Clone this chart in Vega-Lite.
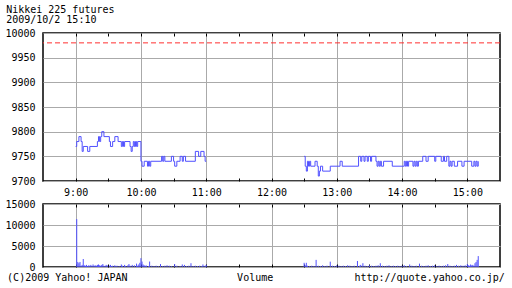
{
  "$schema": "https://vega.github.io/schema/vega-lite/v6.json",
  "background": "white",
  "padding": {"left": 4, "right": 4, "top": 5, "bottom": 2},
  "spacing": 0,
  "title": {"text": ["Nikkei 225 futures", "2009/10/2 15:10"], "anchor": "start", "frame": "bounds", "font": "DejaVu Sans Mono", "fontSize": 10, "fontWeight": "normal", "lineHeight": 10, "offset": 2, "color": "black", "dx": 2},
  "config": {
    "font": "DejaVu Sans Mono",
    "view": {"stroke": "black", "strokeWidth": 1.5},
    "axis": {"domain": false, "labelFont": "DejaVu Sans Mono", "labelFontSize": 10, "labelColor": "black", "gridColor": "#aaaaaa", "gridWidth": 1, "tickColor": "black", "tickWidth": 1}
  },
  "datasets": {
    "price": [
      {"t": 540, "p": 9770, "s": "am"}, {"t": 541, "p": 9780, "s": "am"}, {"t": 543, "p": 9790, "s": "am"}, {"t": 545, "p": 9780, "s": "am"},
      {"t": 546, "p": 9760, "s": "am"}, {"t": 547, "p": 9770, "s": "am"}, {"t": 551, "p": 9760, "s": "am"}, {"t": 553, "p": 9770, "s": "am"},
      {"t": 560, "p": 9780, "s": "am"}, {"t": 561, "p": 9790, "s": "am"}, {"t": 562, "p": 9780, "s": "am"}, {"t": 563, "p": 9790, "s": "am"},
      {"t": 564, "p": 9800, "s": "am"}, {"t": 566, "p": 9790, "s": "am"}, {"t": 571, "p": 9780, "s": "am"}, {"t": 572, "p": 9770, "s": "am"},
      {"t": 574, "p": 9780, "s": "am"}, {"t": 576, "p": 9790, "s": "am"}, {"t": 579, "p": 9780, "s": "am"}, {"t": 582, "p": 9770, "s": "am"},
      {"t": 583, "p": 9780, "s": "am"}, {"t": 584, "p": 9770, "s": "am"}, {"t": 585, "p": 9780, "s": "am"}, {"t": 590, "p": 9770, "s": "am"},
      {"t": 591, "p": 9760, "s": "am"}, {"t": 592, "p": 9770, "s": "am"}, {"t": 593, "p": 9780, "s": "am"}, {"t": 594, "p": 9770, "s": "am"},
      {"t": 595, "p": 9780, "s": "am"}, {"t": 596, "p": 9770, "s": "am"}, {"t": 597, "p": 9780, "s": "am"}, {"t": 600, "p": 9740, "s": "am"},
      {"t": 601, "p": 9730, "s": "am"}, {"t": 603, "p": 9740, "s": "am"}, {"t": 606, "p": 9730, "s": "am"}, {"t": 607, "p": 9740, "s": "am"},
      {"t": 608, "p": 9730, "s": "am"}, {"t": 609, "p": 9740, "s": "am"}, {"t": 619, "p": 9750, "s": "am"}, {"t": 620, "p": 9740, "s": "am"},
      {"t": 621, "p": 9750, "s": "am"}, {"t": 622, "p": 9740, "s": "am"}, {"t": 628, "p": 9750, "s": "am"}, {"t": 630, "p": 9740, "s": "am"},
      {"t": 631, "p": 9730, "s": "am"}, {"t": 633, "p": 9740, "s": "am"}, {"t": 636, "p": 9750, "s": "am"}, {"t": 638, "p": 9740, "s": "am"},
      {"t": 639, "p": 9750, "s": "am"}, {"t": 641, "p": 9740, "s": "am"}, {"t": 650, "p": 9760, "s": "am"}, {"t": 653, "p": 9750, "s": "am"},
      {"t": 655, "p": 9760, "s": "am"}, {"t": 658, "p": 9750, "s": "am"}, {"t": 659, "p": 9740, "s": "am"}, {"t": 660, "p": 9740, "s": "am"},
      {"t": 750, "p": 9750, "s": "pm"}, {"t": 751, "p": 9730, "s": "pm"}, {"t": 752, "p": 9720, "s": "pm"}, {"t": 753, "p": 9740, "s": "pm"},
      {"t": 754, "p": 9730, "s": "pm"}, {"t": 755, "p": 9740, "s": "pm"}, {"t": 756, "p": 9730, "s": "pm"}, {"t": 760, "p": 9740, "s": "pm"},
      {"t": 762, "p": 9730, "s": "pm"}, {"t": 763, "p": 9710, "s": "pm"}, {"t": 764, "p": 9720, "s": "pm"}, {"t": 765, "p": 9730, "s": "pm"},
      {"t": 767, "p": 9720, "s": "pm"}, {"t": 774, "p": 9730, "s": "pm"}, {"t": 783, "p": 9740, "s": "pm"}, {"t": 785, "p": 9730, "s": "pm"},
      {"t": 800, "p": 9750, "s": "pm"}, {"t": 802, "p": 9740, "s": "pm"}, {"t": 803, "p": 9750, "s": "pm"}, {"t": 805, "p": 9740, "s": "pm"},
      {"t": 806, "p": 9750, "s": "pm"}, {"t": 808, "p": 9740, "s": "pm"}, {"t": 809, "p": 9750, "s": "pm"}, {"t": 811, "p": 9740, "s": "pm"},
      {"t": 812, "p": 9750, "s": "pm"}, {"t": 814, "p": 9750, "s": "pm"}, {"t": 816, "p": 9740, "s": "pm"}, {"t": 817, "p": 9730, "s": "pm"},
      {"t": 818, "p": 9740, "s": "pm"}, {"t": 819, "p": 9730, "s": "pm"}, {"t": 820, "p": 9740, "s": "pm"}, {"t": 821, "p": 9730, "s": "pm"},
      {"t": 823, "p": 9740, "s": "pm"}, {"t": 831, "p": 9730, "s": "pm"}, {"t": 842, "p": 9740, "s": "pm"}, {"t": 843, "p": 9730, "s": "pm"},
      {"t": 844, "p": 9740, "s": "pm"}, {"t": 845, "p": 9730, "s": "pm"}, {"t": 846, "p": 9740, "s": "pm"}, {"t": 850, "p": 9730, "s": "pm"},
      {"t": 851, "p": 9740, "s": "pm"}, {"t": 852, "p": 9730, "s": "pm"}, {"t": 853, "p": 9740, "s": "pm"}, {"t": 854, "p": 9730, "s": "pm"},
      {"t": 855, "p": 9740, "s": "pm"}, {"t": 859, "p": 9750, "s": "pm"}, {"t": 862, "p": 9740, "s": "pm"}, {"t": 864, "p": 9750, "s": "pm"},
      {"t": 870, "p": 9740, "s": "pm"}, {"t": 871, "p": 9750, "s": "pm"}, {"t": 876, "p": 9740, "s": "pm"}, {"t": 878, "p": 9750, "s": "pm"},
      {"t": 879, "p": 9740, "s": "pm"}, {"t": 881, "p": 9750, "s": "pm"}, {"t": 883, "p": 9730, "s": "pm"}, {"t": 884, "p": 9740, "s": "pm"},
      {"t": 885, "p": 9730, "s": "pm"}, {"t": 886, "p": 9740, "s": "pm"}, {"t": 888, "p": 9730, "s": "pm"}, {"t": 891, "p": 9740, "s": "pm"},
      {"t": 895, "p": 9730, "s": "pm"}, {"t": 897, "p": 9740, "s": "pm"}, {"t": 904, "p": 9730, "s": "pm"}, {"t": 906, "p": 9740, "s": "pm"},
      {"t": 907, "p": 9730, "s": "pm"}, {"t": 908, "p": 9740, "s": "pm"}, {"t": 909, "p": 9730, "s": "pm"}, {"t": 910, "p": 9740, "s": "pm"}
    ],
    "volume": [
      {"t": 541, "v": 11400}, {"t": 542, "v": 1200}, {"t": 543, "v": 900}, {"t": 544, "v": 1200}, {"t": 545, "v": 300}, {"t": 546, "v": 500},
      {"t": 547, "v": 1900}, {"t": 548, "v": 400}, {"t": 549, "v": 300}, {"t": 550, "v": 500}, {"t": 551, "v": 200}, {"t": 552, "v": 400},
      {"t": 553, "v": 300}, {"t": 554, "v": 500}, {"t": 555, "v": 200}, {"t": 556, "v": 600}, {"t": 557, "v": 300}, {"t": 558, "v": 400},
      {"t": 559, "v": 300}, {"t": 560, "v": 500}, {"t": 561, "v": 600}, {"t": 562, "v": 400}, {"t": 563, "v": 300}, {"t": 564, "v": 500},
      {"t": 565, "v": 700}, {"t": 566, "v": 300}, {"t": 567, "v": 200}, {"t": 568, "v": 500}, {"t": 569, "v": 400}, {"t": 571, "v": 300},
      {"t": 572, "v": 500}, {"t": 573, "v": 200}, {"t": 574, "v": 300}, {"t": 576, "v": 400}, {"t": 577, "v": 200}, {"t": 578, "v": 300},
      {"t": 580, "v": 200}, {"t": 582, "v": 600}, {"t": 583, "v": 300}, {"t": 585, "v": 500}, {"t": 586, "v": 200}, {"t": 588, "v": 400},
      {"t": 589, "v": 700}, {"t": 590, "v": 300}, {"t": 592, "v": 500}, {"t": 594, "v": 400}, {"t": 596, "v": 800}, {"t": 597, "v": 300},
      {"t": 598, "v": 600}, {"t": 599, "v": 1000}, {"t": 600, "v": 2100}, {"t": 601, "v": 1300}, {"t": 602, "v": 600}, {"t": 603, "v": 400},
      {"t": 604, "v": 300}, {"t": 605, "v": 350}, {"t": 607, "v": 200}, {"t": 608, "v": 1300}, {"t": 610, "v": 300}, {"t": 612, "v": 200},
      {"t": 614, "v": 300}, {"t": 616, "v": 200}, {"t": 618, "v": 700}, {"t": 620, "v": 200}, {"t": 622, "v": 300}, {"t": 624, "v": 400},
      {"t": 626, "v": 300}, {"t": 628, "v": 200}, {"t": 631, "v": 700}, {"t": 633, "v": 300}, {"t": 636, "v": 200}, {"t": 638, "v": 600},
      {"t": 640, "v": 500}, {"t": 642, "v": 200}, {"t": 644, "v": 300}, {"t": 646, "v": 900}, {"t": 648, "v": 200}, {"t": 650, "v": 300},
      {"t": 652, "v": 200}, {"t": 654, "v": 300}, {"t": 656, "v": 200}, {"t": 657, "v": 600}, {"t": 659, "v": 300}, {"t": 660, "v": 500},
      {"t": 750, "v": 1000}, {"t": 751, "v": 400}, {"t": 752, "v": 1000}, {"t": 753, "v": 300}, {"t": 755, "v": 200}, {"t": 757, "v": 300},
      {"t": 759, "v": 200}, {"t": 761, "v": 1700}, {"t": 763, "v": 300}, {"t": 765, "v": 200}, {"t": 767, "v": 400}, {"t": 769, "v": 200},
      {"t": 771, "v": 300}, {"t": 774, "v": 1270}, {"t": 776, "v": 300}, {"t": 778, "v": 200}, {"t": 780, "v": 400}, {"t": 782, "v": 300},
      {"t": 784, "v": 200}, {"t": 786, "v": 300}, {"t": 788, "v": 200}, {"t": 790, "v": 400}, {"t": 792, "v": 300}, {"t": 794, "v": 200},
      {"t": 796, "v": 300}, {"t": 799, "v": 1430}, {"t": 801, "v": 300}, {"t": 802, "v": 500}, {"t": 804, "v": 900}, {"t": 806, "v": 300},
      {"t": 808, "v": 200}, {"t": 810, "v": 400}, {"t": 812, "v": 300}, {"t": 814, "v": 200}, {"t": 816, "v": 300}, {"t": 818, "v": 400},
      {"t": 820, "v": 900}, {"t": 822, "v": 300}, {"t": 824, "v": 200}, {"t": 826, "v": 300}, {"t": 828, "v": 400}, {"t": 830, "v": 200},
      {"t": 832, "v": 300}, {"t": 834, "v": 200}, {"t": 836, "v": 300}, {"t": 838, "v": 200}, {"t": 840, "v": 300}, {"t": 842, "v": 400},
      {"t": 844, "v": 200}, {"t": 847, "v": 600}, {"t": 849, "v": 300}, {"t": 851, "v": 200}, {"t": 853, "v": 300}, {"t": 856, "v": 800},
      {"t": 858, "v": 300}, {"t": 860, "v": 200}, {"t": 862, "v": 300}, {"t": 864, "v": 400}, {"t": 866, "v": 200}, {"t": 868, "v": 300},
      {"t": 870, "v": 400}, {"t": 872, "v": 200}, {"t": 874, "v": 300}, {"t": 876, "v": 200}, {"t": 878, "v": 300}, {"t": 880, "v": 400},
      {"t": 882, "v": 700}, {"t": 884, "v": 300}, {"t": 886, "v": 200}, {"t": 888, "v": 300}, {"t": 890, "v": 500}, {"t": 892, "v": 300},
      {"t": 894, "v": 400}, {"t": 896, "v": 300}, {"t": 898, "v": 400}, {"t": 900, "v": 700}, {"t": 901, "v": 400}, {"t": 902, "v": 300},
      {"t": 903, "v": 600}, {"t": 904, "v": 400}, {"t": 905, "v": 500}, {"t": 906, "v": 300}, {"t": 907, "v": 900}, {"t": 908, "v": 1200},
      {"t": 909, "v": 1700}, {"t": 910, "v": 2600}
    ]
  },
  "vconcat": [
    {
      "width": 457,
      "height": 148,
      "layer": [
        {
          "data": {"name": "price"},
          "mark": {"type": "line", "interpolate": "step-after", "color": "#5050ff", "strokeWidth": 1},
          "encoding": {
            "x": {"field": "t", "type": "quantitative", "scale": {"domain": [510, 930], "nice": false, "zero": false},
                  "axis": {"orient": "bottom", "title": null, "values": [540, 570, 600, 630, 660, 690, 720, 750, 780, 810, 840, 870, 900],
                           "labelExpr": "datum.value % 60 == 0 ? floor(datum.value / 60) + ':00' : ''",
                           "grid": true, "gridOpacity": {"condition": {"test": "datum.value % 60 == 0", "value": 1}, "value": 0},
                           "tickSize": -3, "labelPadding": 9, "labelOverlap": false, "labelFlush": false}},
            "y": {"field": "p", "type": "quantitative", "scale": {"domain": [9700, 10000], "nice": false, "zero": false},
                  "axis": {"title": null, "format": "d", "values": [9700, 9750, 9800, 9850, 9900, 9950, 10000], "grid": true, "ticks": false, "labelPadding": 8}},
            "detail": {"field": "s"}
          }
        },
        {
          "data": {"values": [{}]},
          "mark": {"type": "rule", "color": "#ff3030", "strokeDash": [5, 3], "strokeWidth": 1},
          "encoding": {"y": {"datum": 9980, "type": "quantitative", "axis": null}}
        },
        {
          "data": {"name": "price"},
          "mark": {"type": "rule", "opacity": 0},
          "encoding": {
            "x": {"field": "t", "type": "quantitative",
                  "axis": {"orient": "top", "title": null, "labels": false, "grid": false, "tickSize": -3,
                           "values": [540, 570, 600, 630, 660, 690, 720, 750, 780, 810, 840, 870, 900]}}
          }
        }
      ],
      "resolve": {"axis": {"x": "independent", "y": "independent"}}
    },
    {
      "width": 457,
      "height": 63,
      "layer": [
        {
          "data": {"name": "volume"},
          "mark": {"type": "rule", "color": "#5050ff", "strokeWidth": 1},
          "encoding": {
            "x": {"field": "t", "type": "quantitative", "scale": {"domain": [510, 930], "nice": false, "zero": false},
                  "axis": {"orient": "bottom", "title": null, "labels": false,
                           "values": [540, 570, 600, 630, 660, 690, 720, 750, 780, 810, 840, 870, 900],
                           "grid": true, "gridOpacity": {"condition": {"test": "datum.value % 60 == 0", "value": 1}, "value": 0},
                           "tickSize": -3}},
            "y": {"field": "v", "type": "quantitative", "scale": {"domain": [0, 15000], "nice": false},
                  "axis": {"title": null, "format": "d", "values": [0, 5000, 10000, 15000], "grid": true, "ticks": false, "labelPadding": 8}},
            "y2": {"datum": 0}
          }
        },
        {
          "data": {"name": "volume"},
          "mark": {"type": "rule", "opacity": 0},
          "encoding": {
            "x": {"field": "t", "type": "quantitative",
                  "axis": {"orient": "top", "title": null, "labels": false, "grid": false, "tickSize": -3,
                           "values": [540, 570, 600, 630, 660, 690, 720, 750, 780, 810, 840, 870, 900]}}
          }
        },
        {
          "data": {"values": [{}]},
          "mark": {"type": "text", "align": "left", "baseline": "middle", "fontSize": 10, "font": "DejaVu Sans Mono", "color": "black", "text": "(C)2009 Yahoo! JAPAN"},
          "encoding": {"x": {"datum": 477, "type": "quantitative", "axis": null}, "y": {"datum": -2620, "type": "quantitative", "axis": null}}
        },
        {
          "data": {"values": [{}]},
          "mark": {"type": "text", "align": "center", "baseline": "middle", "fontSize": 10, "font": "DejaVu Sans Mono", "color": "black", "text": "Volume"},
          "encoding": {"x": {"datum": 705, "type": "quantitative", "axis": null}, "y": {"datum": -2620, "type": "quantitative", "axis": null}}
        },
        {
          "data": {"values": [{}]},
          "mark": {"type": "text", "align": "right", "baseline": "middle", "fontSize": 10, "font": "DejaVu Sans Mono", "color": "black", "text": "http://quote.yahoo.co.jp/"},
          "encoding": {"x": {"datum": 934.5, "type": "quantitative", "axis": null}, "y": {"datum": -2620, "type": "quantitative", "axis": null}}
        }
      ],
      "resolve": {"axis": {"x": "independent", "y": "independent"}}
    }
  ]
}
